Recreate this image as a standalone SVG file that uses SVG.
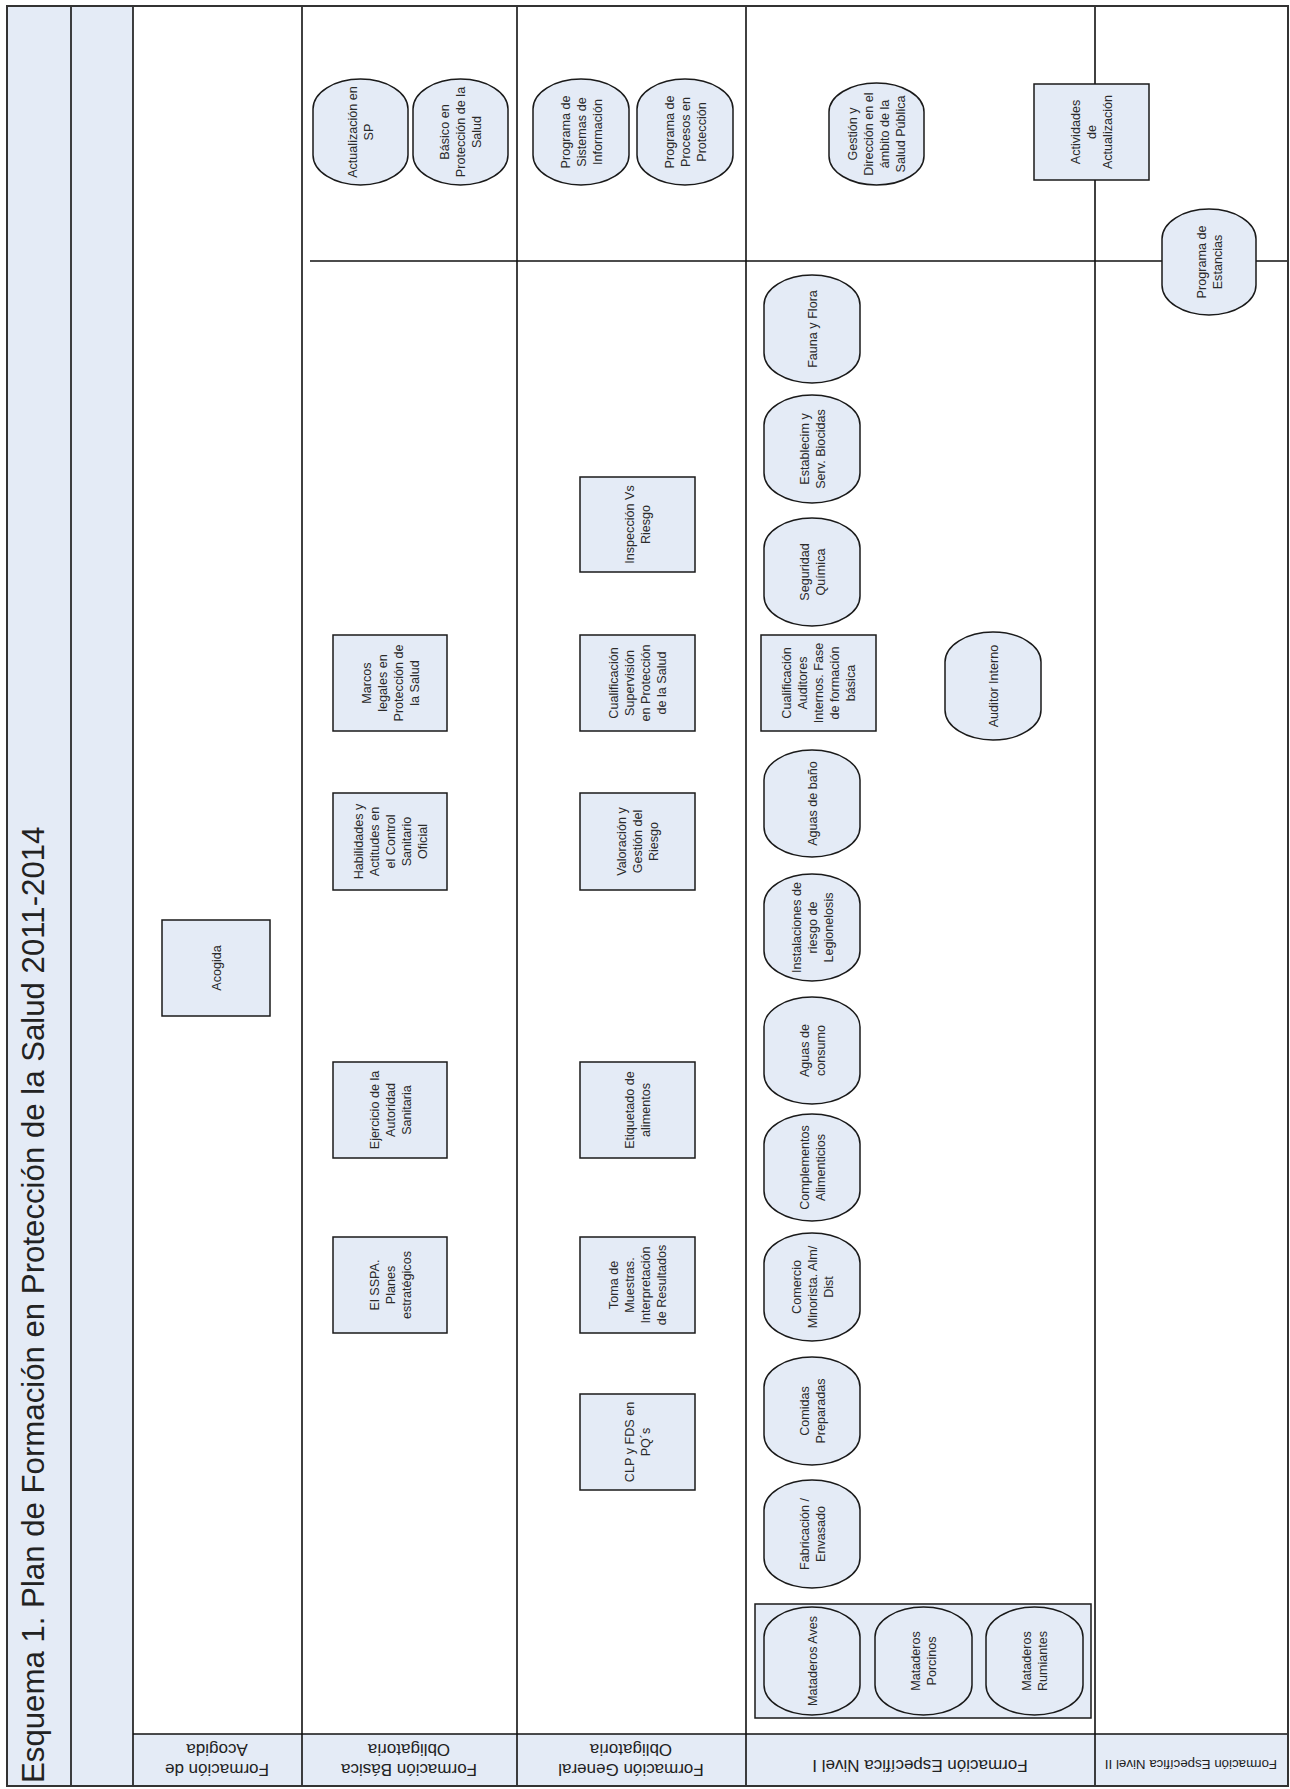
<svg xmlns="http://www.w3.org/2000/svg" width="1290" height="1789" viewBox="0 0 1290 1789">
<style>
.bg{fill:#e4ebf6}
.shape{fill:#e4ebf6;stroke:#1a1a1a;stroke-width:1.5}
.lane{stroke:#111;stroke-width:1.6;fill:none}
.t{font-family:"Liberation Sans",Arial,sans-serif;font-size:12.6px;fill:#2a2a2a;text-anchor:middle}
.h{font-family:"Liberation Sans",Arial,sans-serif;font-size:17px;fill:#222;text-anchor:middle}
.title{font-family:"Liberation Sans",Arial,sans-serif;font-size:31.2px;fill:#222}
</style>
<rect x="0" y="0" width="1290" height="1789" fill="#fff"/>
<g id="swimlanes">
<rect class="bg" x="7" y="6" width="126" height="1780"/>
<rect class="bg" x="133" y="1734" width="1155" height="52"/>
<line class="lane" x1="71" y1="6" x2="71" y2="1786"/>
<line class="lane" x1="133" y1="6" x2="133" y2="1786"/>
<line class="lane" x1="302" y1="6" x2="302" y2="1786"/>
<line class="lane" x1="517" y1="6" x2="517" y2="1786"/>
<line class="lane" x1="746" y1="6" x2="746" y2="1786"/>
<line class="lane" x1="1095" y1="6" x2="1095" y2="1786"/>
<line class="lane" x1="310" y1="261" x2="1288" y2="261" stroke="#444"/>
<line class="lane" x1="133" y1="1734" x2="1288" y2="1734" stroke="#555" stroke-width="2"/>
<rect x="7" y="6" width="1281" height="1780" fill="none" stroke="#333" stroke-width="2"/>
<text class="title" transform="translate(44,1783) rotate(-90)">Esquema 1. Plan de Formación en Protección de la Salud 2011-2014</text>
<text class="h" transform="translate(217,1760) rotate(180)"><tspan x="0" dy="-4">Formación de</tspan><tspan x="0" dy="20">Acogida</tspan></text>
<text class="h" transform="translate(409,1760) rotate(180)"><tspan x="0" dy="-4">Formación Básica</tspan><tspan x="0" dy="20">Obligatoria</tspan></text>
<text class="h" transform="translate(631,1760) rotate(180)"><tspan x="0" dy="-4">Formación General</tspan><tspan x="0" dy="20">Obligatoria</tspan></text>
<text class="h" transform="translate(920,1760) rotate(180)"><tspan x="0" dy="0">Formación Específica Nivel I</tspan></text>
<text class="h" style="font-size:13.3px" transform="translate(1191,1760) rotate(180)"><tspan x="0" dy="0">Formación Específica Nivel II</tspan></text>
</g>
<g id="connectors"></g>

<g id="acogida"><rect class="shape" x="162" y="920" width="108" height="96"/><text class="t" transform="translate(216,968) rotate(-90)"><tspan x="0" dy="4.5">Acogida</tspan></text></g>

<g id="actualizacion-sp"><rect class="shape" x="313" y="79" width="95" height="106" rx="47.5" ry="30"/><text class="t" transform="translate(360.5,132) rotate(-90)"><tspan x="0" dy="-3.5">Actualización en</tspan><tspan x="0" dy="16">SP</tspan></text></g>
<g id="basico-proteccion"><rect class="shape" x="413" y="79" width="95" height="106" rx="47.5" ry="30"/><text class="t" transform="translate(460.5,132) rotate(-90)"><tspan x="0" dy="-11.5">Básico en</tspan><tspan x="0" dy="16">Protección de la</tspan><tspan x="0" dy="16">Salud</tspan></text></g>
<g id="marcos-legales"><rect class="shape" x="333" y="635" width="114" height="96"/><text class="t" transform="translate(390,683) rotate(-90)"><tspan x="0" dy="-19.5">Marcos</tspan><tspan x="0" dy="16">legales en</tspan><tspan x="0" dy="16">Protección de</tspan><tspan x="0" dy="16">la Salud</tspan></text></g>
<g id="habilidades"><rect class="shape" x="333" y="793" width="114" height="97"/><text class="t" transform="translate(390,841.5) rotate(-90)"><tspan x="0" dy="-27.5">Habilidades y</tspan><tspan x="0" dy="16">Actitudes en</tspan><tspan x="0" dy="16">el Control</tspan><tspan x="0" dy="16">Sanitario</tspan><tspan x="0" dy="16">Oficial</tspan></text></g>
<g id="ejercicio"><rect class="shape" x="333" y="1062" width="114" height="96"/><text class="t" transform="translate(390,1110) rotate(-90)"><tspan x="0" dy="-11.5">Ejercicio de la</tspan><tspan x="0" dy="16">Autoridad</tspan><tspan x="0" dy="16">Sanitaria</tspan></text></g>
<g id="sspa"><rect class="shape" x="333" y="1237" width="114" height="96"/><text class="t" transform="translate(390,1285) rotate(-90)"><tspan x="0" dy="-11.5">El SSPA.</tspan><tspan x="0" dy="16">Planes</tspan><tspan x="0" dy="16">estratégicos</tspan></text></g>

<g id="programa-sistemas"><rect class="shape" x="533" y="79" width="96" height="106" rx="48" ry="30"/><text class="t" transform="translate(581,132) rotate(-90)"><tspan x="0" dy="-11.5">Programa de</tspan><tspan x="0" dy="16">Sistemas de</tspan><tspan x="0" dy="16">Información</tspan></text></g>
<g id="programa-procesos"><rect class="shape" x="637" y="79" width="96" height="106" rx="48" ry="30"/><text class="t" transform="translate(685,132) rotate(-90)"><tspan x="0" dy="-11.5">Programa de</tspan><tspan x="0" dy="16">Procesos en</tspan><tspan x="0" dy="16">Protección</tspan></text></g>
<g id="inspeccion"><rect class="shape" x="580" y="477" width="115" height="95"/><text class="t" transform="translate(637.5,524.5) rotate(-90)"><tspan x="0" dy="-3.5">Inspección Vs</tspan><tspan x="0" dy="16">Riesgo</tspan></text></g>
<g id="cualificacion-supervision"><rect class="shape" x="580" y="635" width="115" height="96"/><text class="t" transform="translate(637.5,683) rotate(-90)"><tspan x="0" dy="-19.5">Cualificación</tspan><tspan x="0" dy="16">Supervisión</tspan><tspan x="0" dy="16">en Protección</tspan><tspan x="0" dy="16">de la Salud</tspan></text></g>
<g id="valoracion"><rect class="shape" x="580" y="793" width="115" height="97"/><text class="t" transform="translate(637.5,841.5) rotate(-90)"><tspan x="0" dy="-11.5">Valoración y</tspan><tspan x="0" dy="16">Gestión del</tspan><tspan x="0" dy="16">Riesgo</tspan></text></g>
<g id="etiquetado"><rect class="shape" x="580" y="1062" width="115" height="96"/><text class="t" transform="translate(637.5,1110) rotate(-90)"><tspan x="0" dy="-3.5">Etiquetado de</tspan><tspan x="0" dy="16">alimentos</tspan></text></g>
<g id="toma-muestras"><rect class="shape" x="580" y="1237" width="115" height="96"/><text class="t" transform="translate(637.5,1285) rotate(-90)"><tspan x="0" dy="-19.5">Toma de</tspan><tspan x="0" dy="16">Muestras.</tspan><tspan x="0" dy="16">Interpretación</tspan><tspan x="0" dy="16">de Resultados</tspan></text></g>
<g id="clp-fds"><rect class="shape" x="580" y="1394" width="115" height="96"/><text class="t" transform="translate(637.5,1442) rotate(-90)"><tspan x="0" dy="-3.5">CLP y FDS en</tspan><tspan x="0" dy="16">PQ´s</tspan></text></g>

<g id="gestion-direccion"><rect class="shape" x="829" y="83" width="95" height="102" rx="47.5" ry="29"/><text class="t" transform="translate(876.5,134) rotate(-90)"><tspan x="0" dy="-19.5">Gestión y</tspan><tspan x="0" dy="16">Dirección en el</tspan><tspan x="0" dy="16">ámbito de la</tspan><tspan x="0" dy="16">Salud Pública</tspan></text></g>
<g id="actividades-actualizacion"><rect class="shape" x="1034" y="84" width="115" height="96"/><text class="t" transform="translate(1091.5,132) rotate(-90)"><tspan x="0" dy="-11.5">Actividades</tspan><tspan x="0" dy="16">de</tspan><tspan x="0" dy="16">Actualización</tspan></text></g>
<g id="programa-estancias"><rect class="shape" x="1162" y="209" width="94" height="106" rx="47" ry="30"/><text class="t" transform="translate(1209,262) rotate(-90)"><tspan x="0" dy="-3.5">Programa de</tspan><tspan x="0" dy="16">Estancias</tspan></text></g>

<g id="fauna-flora"><rect class="shape" x="764" y="275" width="96" height="108" rx="48" ry="30"/><text class="t" transform="translate(812,329) rotate(-90)"><tspan x="0" dy="4.5">Fauna y Flora</tspan></text></g>
<g id="establecim-biocidas"><rect class="shape" x="764" y="395" width="96" height="108" rx="48" ry="30"/><text class="t" transform="translate(812,449) rotate(-90)"><tspan x="0" dy="-3.5">Establecim y</tspan><tspan x="0" dy="16">Serv. Biocidas</tspan></text></g>
<g id="seguridad-quimica"><rect class="shape" x="764" y="518" width="96" height="108" rx="48" ry="30"/><text class="t" transform="translate(812,572) rotate(-90)"><tspan x="0" dy="-3.5">Seguridad</tspan><tspan x="0" dy="16">Química</tspan></text></g>
<g id="cualificacion-auditores"><rect class="shape" x="761" y="635" width="115" height="96"/><text class="t" transform="translate(818.5,683) rotate(-90)"><tspan x="0" dy="-27.5">Cualificación</tspan><tspan x="0" dy="16">Auditores</tspan><tspan x="0" dy="16">Internos. Fase</tspan><tspan x="0" dy="16">de formación</tspan><tspan x="0" dy="16">básica</tspan></text></g>
<g id="auditor-interno"><rect class="shape" x="945" y="632" width="96" height="108" rx="48" ry="30"/><text class="t" transform="translate(993,686) rotate(-90)"><tspan x="0" dy="4.5">Auditor Interno</tspan></text></g>
<g id="aguas-bano"><rect class="shape" x="764" y="750" width="96" height="107" rx="48" ry="30"/><text class="t" transform="translate(812,803.5) rotate(-90)"><tspan x="0" dy="4.5">Aguas de baño</tspan></text></g>
<g id="instalaciones-legionelosis"><rect class="shape" x="764" y="874" width="96" height="107" rx="48" ry="30"/><text class="t" transform="translate(812,927.5) rotate(-90)"><tspan x="0" dy="-11.5">Instalaciones de</tspan><tspan x="0" dy="16">riesgo de</tspan><tspan x="0" dy="16">Legionelosis</tspan></text></g>
<g id="aguas-consumo"><rect class="shape" x="764" y="997" width="96" height="107" rx="48" ry="30"/><text class="t" transform="translate(812,1050.5) rotate(-90)"><tspan x="0" dy="-3.5">Aguas de</tspan><tspan x="0" dy="16">consumo</tspan></text></g>
<g id="complementos"><rect class="shape" x="764" y="1114" width="96" height="107" rx="48" ry="30"/><text class="t" transform="translate(812,1167.5) rotate(-90)"><tspan x="0" dy="-3.5">Complementos</tspan><tspan x="0" dy="16">Alimenticios</tspan></text></g>
<g id="comercio"><rect class="shape" x="764" y="1233" width="96" height="108" rx="48" ry="30"/><text class="t" transform="translate(812,1287) rotate(-90)"><tspan x="0" dy="-11.5">Comercio</tspan><tspan x="0" dy="16">Minorista. Alm/</tspan><tspan x="0" dy="16">Dist</tspan></text></g>
<g id="comidas"><rect class="shape" x="764" y="1357" width="96" height="108" rx="48" ry="30"/><text class="t" transform="translate(812,1411) rotate(-90)"><tspan x="0" dy="-3.5">Comidas</tspan><tspan x="0" dy="16">Preparadas</tspan></text></g>
<g id="fabricacion"><rect class="shape" x="764" y="1480" width="96" height="108" rx="48" ry="30"/><text class="t" transform="translate(812,1534) rotate(-90)"><tspan x="0" dy="-3.5">Fabricación /</tspan><tspan x="0" dy="16">Envasado</tspan></text></g>
<g id="mataderos">
<rect class="shape" x="755" y="1604" width="336" height="114"/>
<g id="mataderos-aves"><rect class="shape" x="764" y="1607" width="96" height="108" rx="48" ry="30"/><text class="t" transform="translate(812,1661) rotate(-90)"><tspan x="0" dy="4.5">Mataderos Aves</tspan></text></g>
<g id="mataderos-porcinos"><rect class="shape" x="875" y="1607" width="97" height="108" rx="48.5" ry="30"/><text class="t" transform="translate(923.5,1661) rotate(-90)"><tspan x="0" dy="-3.5">Mataderos</tspan><tspan x="0" dy="16">Porcinos</tspan></text></g>
<g id="mataderos-rumiantes"><rect class="shape" x="986" y="1607" width="97" height="108" rx="48.5" ry="30"/><text class="t" transform="translate(1034.5,1661) rotate(-90)"><tspan x="0" dy="-3.5">Mataderos</tspan><tspan x="0" dy="16">Rumiantes</tspan></text></g>
</g>
</svg>
